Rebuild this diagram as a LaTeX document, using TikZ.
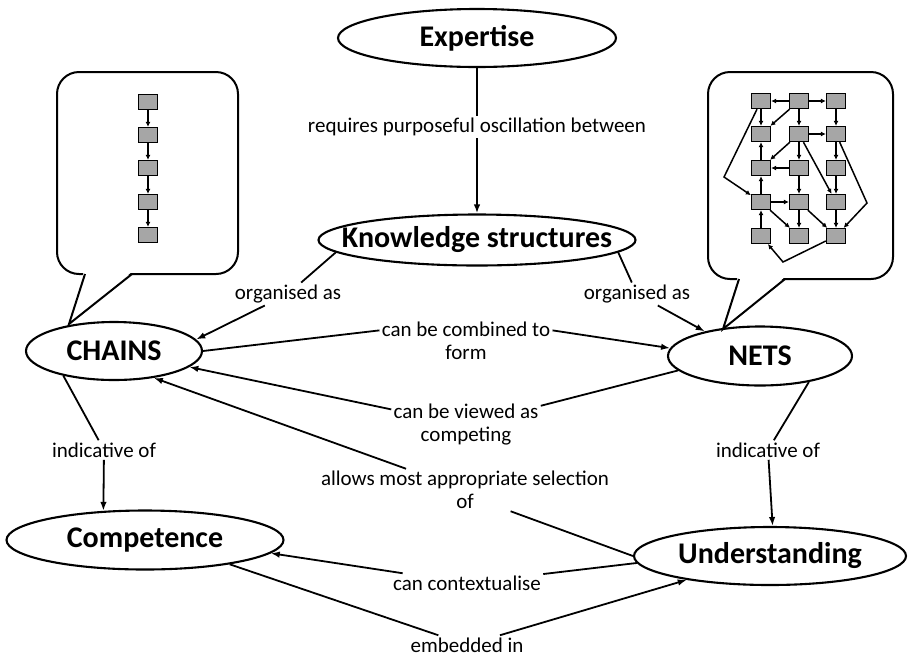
\documentclass[tikz,border=0pt]{standalone}
\usepackage{fontspec}
\setmainfont{Carlito}
\usetikzlibrary{arrows.meta,shapes.geometric,positioning}

\begin{document}
\begin{tikzpicture}[x=1pt, y=-1pt, line width=1.8pt, >={Latex[length=9pt,width=6.5pt]}]
\tikzstyle{concept}=[draw, ellipse, line width=2.1pt, inner sep=0pt, font=\fontsize{30}{32}\selectfont\bfseries]
\tikzstyle{link}=[fill=white, inner sep=1.5pt, align=center, font=\fontsize{21}{23}\selectfont]
\tikzstyle{bubble}=[draw, fill=white, rounded corners=22pt, line width=2pt]
\tikzstyle{sq}=[draw, fill=gray!70, line width=1.3pt, minimum width=19pt, minimum height=15pt, inner sep=0pt]
\tikzstyle{tiny}=[line width=1.5pt, -{Latex[length=5pt,width=5pt]}]

\useasboundingbox (0,0) rectangle (912,657);

% speech bubbles
\draw[bubble] (57,72) rectangle (238,274);
\fill[white] (84,271) -- (69,324) -- (133,271) -- cycle;
\draw[line width=2pt] (85,274) -- (69,324) -- (132,274);

\draw[bubble] (708,72) rectangle (893,279);
\fill[white] (738,276) -- (723,329) -- (786,276) -- cycle;
\draw[line width=2pt] (739,279) -- (723,329) -- (785,279);

% chain
\foreach \i/\y in {1/102,2/135,3/168,4/202,5/235}
  \node[sq] (c\i) at (148,\y) {};
\foreach \i/\j in {1/2,2/3,3/4,4/5}
  \draw[tiny] (c\i) -- (c\j);

% net
\foreach \c/\x in {1/761,2/799,3/836}
  \foreach \r/\y in {1/101,2/134,3/168,4/202,5/236}
    \node[sq] (n\c\r) at (\x,\y) {};
\foreach \a/\b in {21/11,21/31,11/12,21/12,21/22,31/32,22/32,22/13,22/23,22/34,
                   32/33,13/12,23/13,23/24,33/34,14/13,14/24,14/25,24/25,24/35,34/35,15/14}
  \draw[tiny] (n\a) -- (n\b);
\coordinate (bendL) at (724,177);
\coordinate (bendR) at (867,203);
\coordinate (bendB) at (783,262);
\draw[tiny] (n11) -- (bendL) -- (n14);
\draw[tiny] (n32) -- (bendR) -- (n35);
\draw[tiny] (n35) -- (bendB) -- (n15);

% concepts
\node[concept, minimum width=278pt, minimum height=58pt] (expertise) at (477,38) {Expertise};
\node[concept, minimum width=317pt, minimum height=51pt] (know) at (477,240) {\makebox[0pt]{Knowledge structures}};
\node[concept, minimum width=176pt, minimum height=58pt] (chains) at (114,351) {CHAINS};
\node[concept, minimum width=184pt, minimum height=59pt] (nets) at (760,356) {NETS};
\node[concept, minimum width=277pt, minimum height=59pt] (comp) at (145,540) {Competence};
\node[concept, minimum width=272pt, minimum height=58pt] (und) at (770,556) {Understanding};

% linking phrases
\node[link] (lreq) at (477,127) {requires purposeful oscillation between};
\node[link] (lorg1) at (288,294) {organised as};
\node[link] (lorg2) at (637,294) {organised as};
\node[link] (lcomb) at (466,341) {can be combined to\\form};
\node[link] (lview) at (466,425) {can be viewed as\\competing};
\node[link] (lind1) at (104,450) {indicative of};
\node[link] (lind2) at (768,450) {indicative of};
\node[link] (lallow) at (465,490) {allows most appropriate selection\\of};
\node[link] (lcont) at (467,583) {can contextualise};
\node[link] (lemb) at (467,645) {embedded in};

% propositions
\draw (expertise) -- (lreq);
\draw[->] (lreq) -- (know);
\draw (know.185) -- (lorg1);
\draw[->] (lorg1) -- (chains.8);
\draw (know.-5) -- (lorg2);
\draw[->] (lorg2) -- (nets.156);
\draw (chains.east) -- (lcomb.173);
\draw[->] (lcomb.7) -- (nets.175);
\draw (nets.190) -- (lview);
\draw[->] (lview) -- (chains.-12);
\draw (chains.206) -- (lind1);
\draw[->] (lind1) -- (comp.145);
\draw (nets.-28) -- (lind2);
\draw[->] (lind2) -- (und.85);
\draw (und.west) -- (lallow.-25);
\draw[->] (lallow) -- (chains.-34);
\draw (und.183) -- (lcont);
\draw[->] (lcont) -- (comp.-6);
\draw (comp.-16) -- (lemb);
\draw[->] (lemb) -- (und.196);
\end{tikzpicture}
\end{document}
